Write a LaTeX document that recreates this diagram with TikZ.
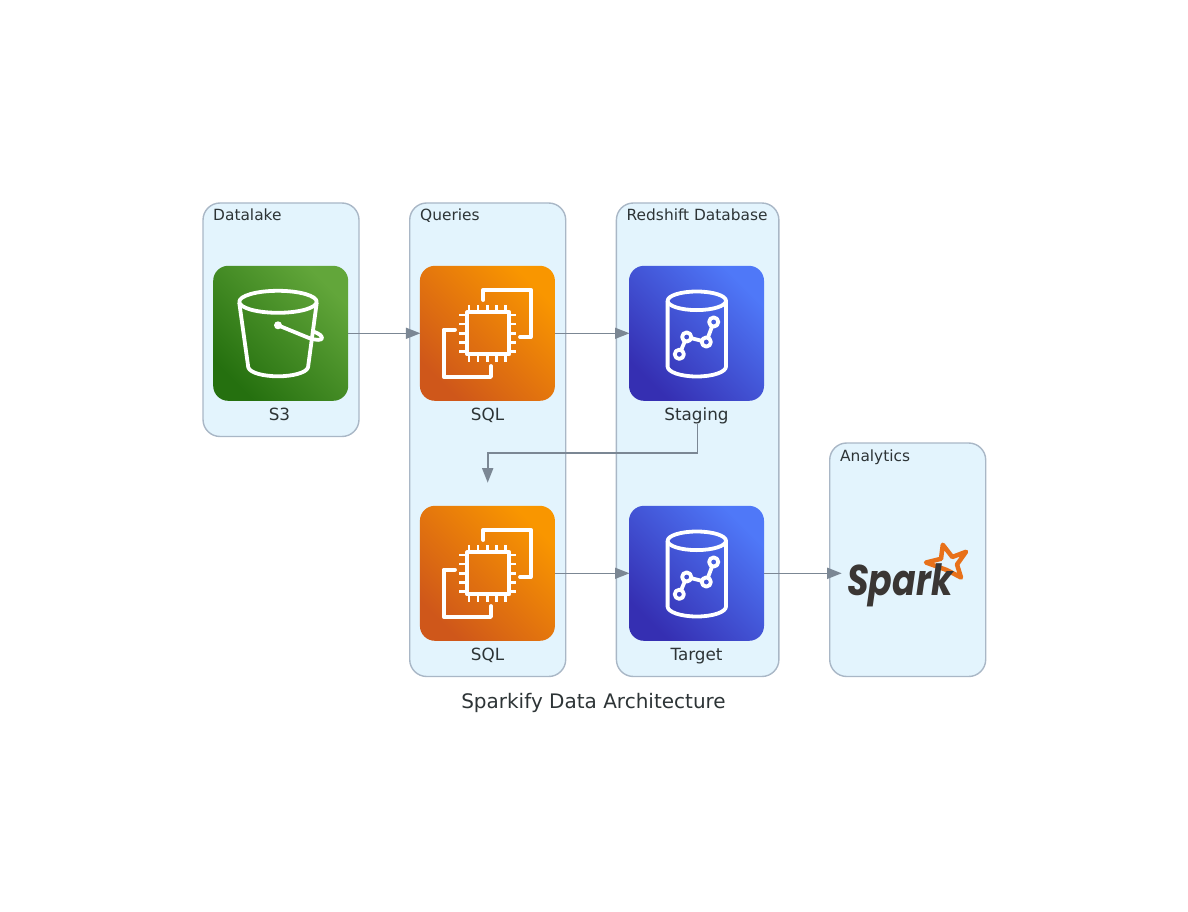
\documentclass[tikz,border=0pt]{standalone}
\usepackage{fontspec}
\setmainfont{DejaVu Sans}
\newfontfamily\sparkfont{Poppins}
\usetikzlibrary{arrows.meta}
\definecolor{grpfill}{HTML}{E3F4FD}
\definecolor{grpline}{HTML}{A9B7C6}
\definecolor{ink}{HTML}{2D3436}
\definecolor{edgec}{HTML}{7B8794}
\definecolor{sparkink}{HTML}{3A3634}
\definecolor{sparkstar}{HTML}{E8711A}
\definecolor{s3a}{HTML}{25700F}
\definecolor{s3b}{HTML}{62A63A}
\definecolor{sqla}{HTML}{CF571A}
\definecolor{sqlb}{HTML}{F99600}
\definecolor{rsa}{HTML}{352FB2}
\definecolor{rsb}{HTML}{4F78F8}
\tikzset{
  grp/.style={draw=grpline,fill=grpfill,line width=1.4pt,rounded corners=17pt,inner sep=0pt,anchor=north west},
  grplabel/.style={text=ink,font=\fontsize{15.4}{17}\selectfont,anchor=base west,inner sep=0pt},
  iconbox/.style={rectangle,rounded corners=15pt,minimum size=135pt,inner sep=0pt},
  s3box/.style={iconbox,bottom color=s3a,top color=s3b,shading angle=-45},
  sqlbox/.style={iconbox,bottom color=sqla,top color=sqlb,shading angle=-45},
  rsbox/.style={iconbox,bottom color=rsa,top color=rsb,shading angle=-45},
  iconlabel/.style={text=ink,font=\fontsize{16.8}{18}\selectfont,inner sep=0pt,anchor=base},
  glyph/.style={draw=white,line width=3.8pt,line join=round,line cap=round},
  pin/.style={draw=white,line width=2.9pt},
  conn/.style={draw=edgec,line width=1.6pt,shorten >=-0.7pt,-{Triangle[length=14.5pt,width=11pt]}},
}
\newcommand{\sqlglyph}{%
  \draw[glyph] (467.3,312.3) rectangle (509.3,354.3);
  \foreach \p in {469,478,487.3,496.5,505.5} {
    \draw[pin] (\p,312.3) -- (\p,305);
    \draw[pin] (\p,354.3) -- (\p,361.7);
  }
  \foreach \p in {315,324,333.3,342.5,351.5} {
    \draw[pin] (467.3,\p) -- (459,\p);
    \draw[pin] (509.3,\p) -- (516,\p);
  }
  \draw[glyph] (483.3,300) -- (483.3,289.7) -- (530.7,289.7) -- (530.7,337) -- (520,337);
  \draw[glyph] (455,329.7) -- (443.7,329.7) -- (443.7,377) -- (491,377) -- (491,366);
}
\newcommand{\rsglyph}{%
  \draw[glyph] (696.8,300.8) ellipse [x radius=29.2,y radius=9.3];
  \draw[glyph] (667.6,300.8) -- (667.6,366.5) arc [start angle=180,end angle=0,x radius=29.2,y radius=10] -- (726,300.8);
  \draw[glyph,shorten <=4.6pt,shorten >=4.6pt] (679.3,354.3) -- (686.7,337);
  \draw[glyph,shorten <=4.6pt,shorten >=4.6pt] (686.7,337) -- (706.3,342);
  \draw[glyph,shorten <=4.6pt,shorten >=4.6pt] (706.3,342) -- (713.7,322);
  \foreach \c in {(679.3,354.3),(686.7,337),(706.3,342),(713.7,322)} {
    \draw[glyph] \c circle [radius=4.6];
  }
}
\begin{document}
\begin{tikzpicture}[x=1pt,y=-1pt]
\useasboundingbox (0,0) rectangle (1188,912);
% groups
\node[grp,minimum width=156pt,minimum height=233.5pt] (gdatalake) at (202.3,202.3) {};
\node[grp,minimum width=156pt,minimum height=473.5pt] (gqueries) at (409,202.3) {};
\node[grp,minimum width=162.5pt,minimum height=473.5pt] (gredshift) at (615.7,202.3) {};
\node[grp,minimum width=156pt,minimum height=233.5pt] (ganalytics) at (829,442.3) {};
\node[grplabel] (tdatalake) at (213,221) {Datalake};
\node[grplabel] (tqueries) at (420,221) {Queries};
\node[grplabel] (tredshift) at (626.5,221) {Redshift Database};
\node[grplabel] (tanalytics) at (840,461) {Analytics};
% icons
\node[s3box] (s3) at (280.7,333.3) {};
\node[sqlbox] (sqla) at (487.4,333.3) {};
\node[rsbox] (staging) at (696.5,333.3) {};
\node[sqlbox] (sqlb) at (487.4,573.3) {};
\node[rsbox] (target) at (696.5,573.3) {};
% S3 glyph
\draw[glyph] (278,301.8) ellipse [x radius=38.7,y radius=11];
\draw[glyph] (239.3,303) -- (248.3,367.5) .. controls (250,373) and (264,376.3) .. (278,376.3) .. controls (292,376.3) and (306,373) .. (308,367.5) -- (316.7,303);
\draw[glyph] (278,325.3) -- (309,338) .. controls (316,340.5) and (322,340.5) .. (322,338) .. controls (322,336) and (319,333.5) .. (314.5,332);
\fill[white] (278,325.3) circle [radius=4];
\sqlglyph
\rsglyph
\begin{scope}[shift={(0,240)}]
\sqlglyph
\rsglyph
\end{scope}
% labels
\node[iconlabel] (ls3) at (279.5,420) {S3};
\node[iconlabel] (lsqla) at (487.5,420) {SQL};
\node[iconlabel] (lstaging) at (696.5,420) {Staging};
\node[iconlabel] (lsqlb) at (487.5,660) {SQL};
\node[iconlabel] (ltarget) at (696.5,660) {Target};
\node[text=ink,font=\fontsize{20}{22}\selectfont,inner sep=0pt,anchor=base] (title) at (593.5,708) {Sparkify Data Architecture};
% spark logo
\draw[sparkstar,line width=4.5pt,line join=round] (942.8,544.8) -- (952.3,557) -- (966,551.8) -- (957,564.5) -- (961,577.5) -- (946.7,570) -- (926,562.5) -- (941,558.8) -- cycle;
\node[text=sparkink,inner sep=0pt,anchor=base west] (spark) at (847,595.5) {\scalebox{0.81}[1]{\sparkfont\fontsize{43}{45}\selectfont\bfseries\itshape Spark}};
% connectors
\coordinate (bend) at (697.3,452.7);
\coordinate (drop) at (487.7,482);
\coordinate (sparkin) at (841,573.3);
\draw[conn] (s3) -- (sqla);
\draw[conn] (sqla) -- (staging);
\draw[conn] (lstaging.south -| bend) -- (bend) -- (bend -| drop) -- (drop);
\draw[conn] (sqlb) -- (target);
\draw[conn] (target) -- (sparkin);
\end{tikzpicture}
\end{document}
